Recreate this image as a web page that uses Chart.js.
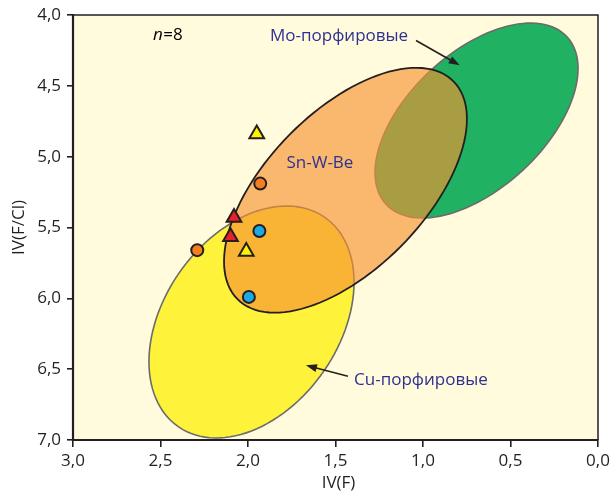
<!DOCTYPE html>
<html>
<head>
<meta charset="utf-8">
<script src="https://cdn.jsdelivr.net/npm/chart.js@4.4.1/dist/chart.umd.min.js"></script>
<style>
  html, body { margin: 0; padding: 0; background: #fff; }
  #wrap { width: 612px; height: 494px; }
</style>
</head>
<body>
<div id="wrap"><canvas id="chart"></canvas></div>
<script>
// ---------- data ----------
const xTicks = [3.0, 2.5, 2.0, 1.5, 1.0, 0.5, 0.0];
const yTicks = [4.0, 4.5, 5.0, 5.5, 6.0, 6.5, 7.0];

const redTriangles = [{ x: 2.08, y: 5.43 }, { x: 2.10, y: 5.565 }];
const yellowTriangles = [{ x: 1.95, y: 4.84 }, { x: 2.01, y: 5.67 }];
const orangeCircles = [{ x: 1.93, y: 5.19 }, { x: 2.29, y: 5.66 }];
const blueCircles = [{ x: 1.935, y: 5.525 }, { x: 1.995, y: 5.99 }];

// fields: centre + two conjugate half-diameters (data units)
const cuCenter = [1.98, 6.167], cuU = [-0.586, -0.281], cuV = [0, 0.769];
const moCenter = [0.694, 4.745], moU = [-0.58, -0.367], moV = [0, 0.582];
const snCenter = [1.443, 5.237], snU = [-0.694, -0.503], snV = [0, 0.703];

// labels [text, x, y]
const nLabel = [2.543, 4.14];
const moLabel = ["Mo-порфировые", 1.874, 4.15];
const snLabel = ["Sn-W-Be", 1.589, 5.047];
const cuLabel = ["Cu-порфировые", 1.394, 6.579];
const moArrow = [[1.04, 4.18], [0.79, 4.355]];
const cuArrow = [[1.429, 6.55], [1.669, 6.473]];
const xTitle = "IV(F)";
const yTitle = "IV(F/Cl)";

const INK = "#231F20";
const FONT = "'Open Sans', 'Noto Sans', sans-serif";

function fmt(v) {
  return v.toFixed(1).replace(".", ",");
}

function drawField(chart, c, u, v, fill, stroke, lw) {
  const { ctx, scales: { x, y } } = chart;
  ctx.beginPath();
  for (let i = 0; i <= 120; i++) {
    const t = (i / 120) * Math.PI * 2;
    const px = x.getPixelForValue(c[0] + u[0] * Math.cos(t) + v[0] * Math.sin(t));
    const py = y.getPixelForValue(c[1] + u[1] * Math.cos(t) + v[1] * Math.sin(t));
    if (i === 0) ctx.moveTo(px, py);
    else ctx.lineTo(px, py);
  }
  ctx.closePath();
  ctx.fillStyle = fill;
  ctx.fill();
  ctx.lineWidth = lw;
  ctx.strokeStyle = stroke;
  ctx.stroke();
}

function drawArrow(chart, a, b) {
  const { ctx, scales: { x, y } } = chart;
  const x1 = x.getPixelForValue(a[0]), y1 = y.getPixelForValue(a[1]);
  const x2 = x.getPixelForValue(b[0]), y2 = y.getPixelForValue(b[1]);
  const ang = Math.atan2(y2 - y1, x2 - x1);
  const len = 11, half = 4;
  ctx.strokeStyle = INK;
  ctx.fillStyle = INK;
  ctx.lineWidth = 1.6;
  ctx.beginPath();
  ctx.moveTo(x1, y1);
  ctx.lineTo(x2 - Math.cos(ang) * len * 0.8, y2 - Math.sin(ang) * len * 0.8);
  ctx.stroke();
  ctx.beginPath();
  ctx.moveTo(x2, y2);
  ctx.lineTo(x2 - Math.cos(ang) * len - Math.sin(ang) * half, y2 - Math.sin(ang) * len + Math.cos(ang) * half);
  ctx.lineTo(x2 - Math.cos(ang) * len + Math.sin(ang) * half, y2 - Math.sin(ang) * len - Math.cos(ang) * half);
  ctx.closePath();
  ctx.fill();
}

const fieldsPlugin = {
  id: "fields",
  beforeDraw(chart) {
    const { ctx, chartArea: a } = chart;
    ctx.save();
    ctx.fillStyle = "#fff";
    ctx.fillRect(0, 0, chart.width, chart.height);
    ctx.fillStyle = "#FFFBDC";
    ctx.fillRect(a.left, a.top, a.right - a.left, a.bottom - a.top);

    // axis titles
    ctx.fillStyle = INK;
    ctx.font = "17px " + FONT;
    ctx.textAlign = "center";
    ctx.textBaseline = "middle";
    ctx.fillText(xTitle, (a.left + a.right) / 2 + 3, chart.height - 11);
    ctx.translate(19, (a.top + a.bottom) / 2);
    ctx.rotate(-Math.PI / 2);
    ctx.fillText(yTitle, 0, 0);
    ctx.restore();
  },
  beforeDatasetsDraw(chart) {
    const { ctx, chartArea: a } = chart;
    ctx.save();
    ctx.beginPath();
    ctx.rect(a.left, a.top, a.right - a.left, a.bottom - a.top);
    ctx.clip();
    drawField(chart, cuCenter, cuU, cuV, "#FFF23B", "#6b6b6b", 1.6);
    drawField(chart, moCenter, moU, moV, "#20B262", "#6b6b6b", 1.6);
    drawField(chart, snCenter, snU, snV, "rgba(247,145,50,0.64)", INK, 1.8);
    ctx.restore();

    // frame
    ctx.save();
    ctx.strokeStyle = INK;
    ctx.lineWidth = 1.5;
    ctx.beginPath();
    ctx.moveTo(a.left, a.top);
    ctx.lineTo(a.right, a.top);
    ctx.lineTo(a.right, a.bottom);
    ctx.stroke();
    ctx.lineWidth = 2.2;
    ctx.beginPath();
    ctx.moveTo(a.left, a.top);
    ctx.lineTo(a.left, a.bottom);
    ctx.lineTo(a.right, a.bottom);
    ctx.stroke();

    // labels and arrows
    const { x, y } = chart.scales;
    ctx.textBaseline = "middle";
    ctx.textAlign = "left";
    ctx.fillStyle = "#000";
    ctx.font = "italic 17px " + FONT;
    const nx = x.getPixelForValue(nLabel[0]), ny = y.getPixelForValue(nLabel[1]);
    ctx.fillText("n", nx, ny);
    const nw = ctx.measureText("n").width;
    ctx.font = "17px " + FONT;
    ctx.fillText("=8", nx + nw + 0.5, ny);

    ctx.fillStyle = "#2E3192";
    ctx.font = "17px " + FONT;
    ctx.fillText(moLabel[0], x.getPixelForValue(moLabel[1]), y.getPixelForValue(moLabel[2]));
    ctx.fillText(cuLabel[0], x.getPixelForValue(cuLabel[1]), y.getPixelForValue(cuLabel[2]));
    ctx.textAlign = "center";
    ctx.fillText(snLabel[0], x.getPixelForValue(snLabel[1]), y.getPixelForValue(snLabel[2]));

    drawArrow(chart, moArrow[0], moArrow[1]);
    drawArrow(chart, cuArrow[0], cuArrow[1]);
    ctx.restore();
  }
};

function markerSet(label, data, style, color, radius) {
  return {
    label: label,
    data: data,
    pointStyle: style,
    pointRadius: radius,
    pointHoverRadius: radius,
    pointBackgroundColor: color,
    pointBorderColor: INK,
    pointBorderWidth: 2,
    showLine: false
  };
}

new Chart(document.getElementById("chart"), {
  type: "scatter",
  data: {
    datasets: [
      markerSet("orange", orangeCircles, "circle", "#F47F20", 6),
      markerSet("blue", blueCircles, "circle", "#1CA9E6", 6),
      markerSet("yellow", yellowTriangles, "triangle", "#FFF200", 8.5),
      markerSet("red", redTriangles, "triangle", "#E8202A", 8.5)
    ]
  },
  options: {
    responsive: true,
    maintainAspectRatio: false,
    animation: false,
    layout: { padding: { left: 0, right: 14, top: 15, bottom: 0 } },
    plugins: { legend: { display: false }, tooltip: { enabled: false } },
    scales: {
      x: {
        type: "linear",
        min: 0,
        max: 3,
        reverse: true,
        afterBuildTicks: (s) => { s.ticks = xTicks.map((v) => ({ value: v })); },
        afterFit: (s) => { s.height = 54; s.paddingLeft = 0; s.paddingRight = 0; },
        ticks: {
          callback: (v) => fmt(v),
          color: INK,
          font: { family: FONT, size: 17 },
          padding: 4,
          maxRotation: 0,
          autoSkip: false
        },
        grid: { drawOnChartArea: false, drawTicks: true, tickLength: 7, color: INK, lineWidth: 1.6 },
        border: { display: true, color: INK, width: 2 },
        title: { display: false }
      },
      y: {
        type: "linear",
        min: 4,
        max: 7,
        reverse: true,
        afterBuildTicks: (s) => { s.ticks = yTicks.map((v) => ({ value: v })); },
        afterFit: (s) => { s.width = 73; s.paddingTop = 0; s.paddingBottom = 0; },
        ticks: {
          callback: (v) => fmt(v),
          color: INK,
          font: { family: FONT, size: 17 },
          padding: 6,
          autoSkip: false
        },
        grid: { drawOnChartArea: false, drawTicks: true, tickLength: 6, color: INK, lineWidth: 1.6 },
        border: { display: true, color: INK, width: 2 },
        title: { display: false }
      }
    }
  },
  plugins: [fieldsPlugin]
});
</script>
</body>
</html>
